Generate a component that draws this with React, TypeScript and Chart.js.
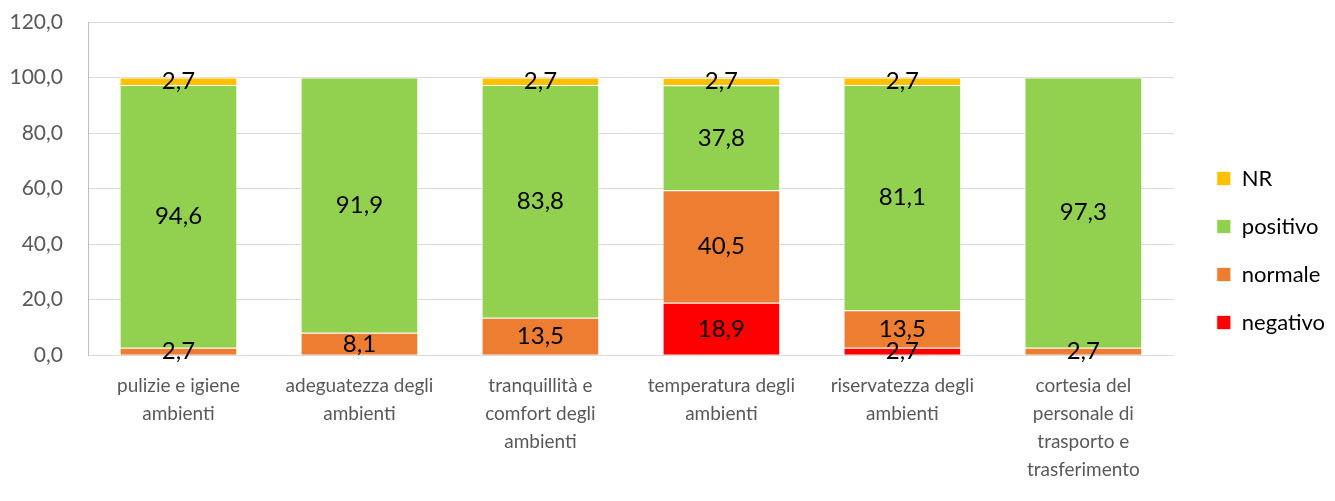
import React, { useEffect, useRef } from "react";
import { Chart, registerables } from "chart.js";

Chart.register(...registerables);

const categories: string[][] = [
  ["pulizie e igiene", "ambienti"],
  ["adeguatezza degli", "ambienti"],
  ["tranquillità e", "comfort degli", "ambienti"],
  ["temperatura degli", "ambienti"],
  ["riservatezza degli", "ambienti"],
  ["cortesia del", "personale di", "trasporto e", "trasferimento"],
];

const negativo = [0, 0, 0, 18.9, 2.7, 0];
const normale = [2.7, 8.1, 13.5, 40.5, 13.5, 2.7];
const positivo = [94.6, 91.9, 83.8, 37.8, 81.1, 97.3];
const nr = [2.7, 0, 2.7, 2.7, 2.7, 0];

const FONT = "Lato, 'Open Sans', sans-serif";

const fmt = (v: number) => v.toFixed(1).replace(".", ",");

const labelPlugin = {
  id: "barLabels",
  afterDatasetsDraw(chart: any) {
    const ctx = chart.ctx;
    ctx.save();
    ctx.font = `24px ${FONT}`;
    ctx.fillStyle = "#000000";
    ctx.textAlign = "center";
    ctx.textBaseline = "middle";
    chart.data.datasets.forEach((ds: any, di: number) => {
      const meta = chart.getDatasetMeta(di);
      meta.data.forEach((el: any, i: number) => {
        const v = ds.data[i];
        if (!v) return;
        const y = (el.y + el.base) / 2;
        ctx.fillText(fmt(v), el.x, y);
      });
    });
    ctx.restore();
  },
};

export default function App() {
  const ref = useRef<HTMLCanvasElement | null>(null);
  useEffect(() => {
    if (!ref.current) return;
    const chart = new Chart(ref.current, {
      type: "bar",
      data: {
        labels: categories,
        datasets: [
          { label: "negativo", data: negativo, backgroundColor: "#FF0000" },
          { label: "normale", data: normale, backgroundColor: "#ED7D31" },
          { label: "positivo", data: positivo, backgroundColor: "#92D050" },
          { label: "NR", data: nr, backgroundColor: "#FFC000" },
        ],
      },
      options: {
        responsive: false,
        animation: false,
        devicePixelRatio: 1,
        layout: { padding: { left: 10, top: 0, right: 0, bottom: 0 } },
        datasets: {
          bar: {
            barPercentage: 0.65,
            categoryPercentage: 1,
            borderColor: "rgba(255,255,255,0.7)",
            borderWidth: 1,
          },
        },
        scales: {
          x: {
            stacked: true,
            grid: { display: false, drawTicks: false },
            border: { color: "#d9d9d9", width: 1 },
            ticks: {
              color: "#595959",
              font: { family: FONT, size: 19, lineHeight: 1.47 },
              padding: 17,
              maxRotation: 0,
              autoSkip: false,
            },
          },
          y: {
            stacked: true,
            min: 0,
            max: 120,
            grid: { color: "#d9d9d9", drawTicks: false },
            border: { color: "#bfbfbf", width: 1 },
            ticks: {
              stepSize: 20,
              color: "#595959",
              font: { family: FONT, size: 21 },
              padding: 25,
              callback: (v: any) => fmt(Number(v)),
            },
            afterFit: (s: any) => {
              s.width = 78;
              s.paddingTop = 22;
              s.paddingBottom = 0;
            },
          },
          yr: {
            position: "right",
            display: true,
            grid: { display: false, drawTicks: false },
            border: { display: false },
            ticks: { display: false },
            afterFit: (s: any) => {
              s.width = 17;
            },
          },
        },
        plugins: {
          legend: {
            position: "right",
            reverse: true,
            labels: {
              boxWidth: 14,
              boxHeight: 14,
              padding: 26,
              color: "#000000",
              font: { family: FONT, size: 22 },
            },
          },
          tooltip: { enabled: false },
        },
      },
      plugins: [labelPlugin],
    });
    return () => chart.destroy();
  }, []);
  return (
    <div style={{ position: "fixed", left: 0, top: 0, width: 1335, height: 501, background: "#fff" }}>
      <canvas ref={ref} width={1335} height={501} />
    </div>
  );
}
